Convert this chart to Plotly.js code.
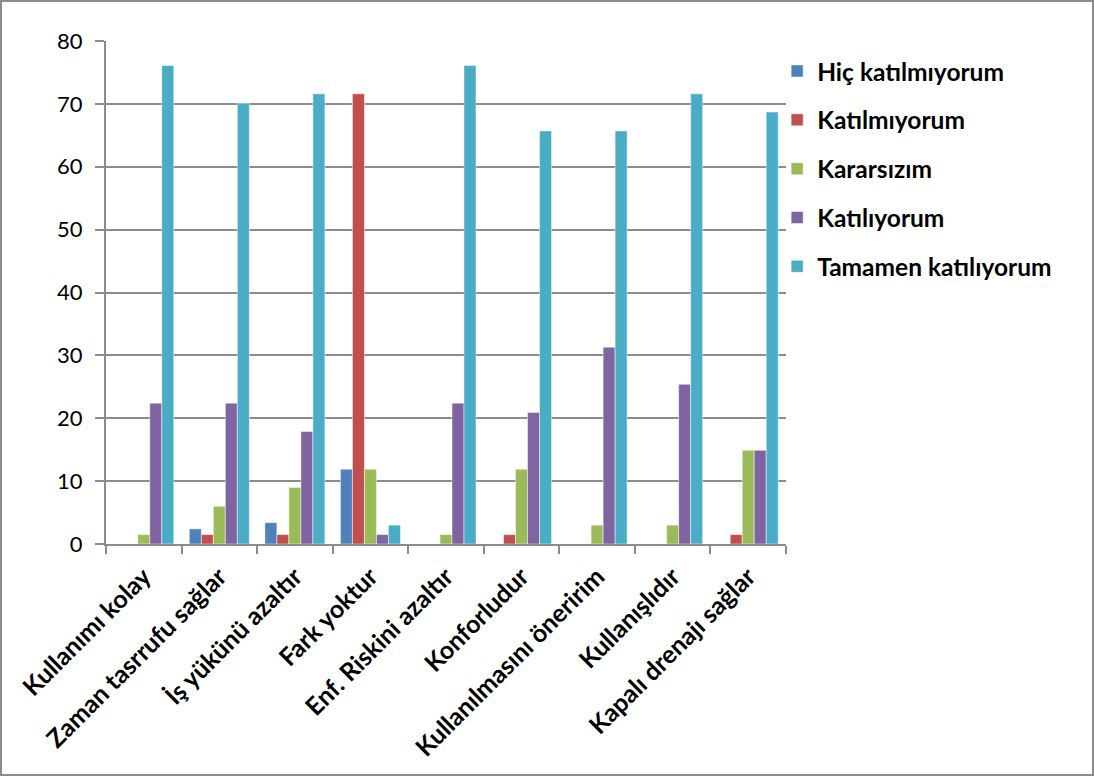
<!DOCTYPE html>
<html><head><meta charset="utf-8">
<script src="https://cdn.plot.ly/plotly-3.0.1.min.js"></script>
<style>
html,body{margin:0;padding:0;background:#fff;}
#wrap{width:1094px;height:776px;box-sizing:border-box;border:2px solid #8c8c8c;overflow:hidden;}
#chart{width:1090px;height:772px;}
</style></head>
<body><div id="wrap"><div id="chart"></div></div>
<script>
const categories = ["Kullanımı kolay","Zaman tasrrufu sağlar","İş yükünü azaltır","Fark yoktur","Enf. Riskini azaltır","Konforludur","Kullanılmasını öneririm","Kullanışlıdır","Kapalı drenajı sağlar"];
const seriesNames = ["Hiç katılmıyorum","Katılmıyorum","Kararsızım","Katılıyorum","Tamamen katılıyorum"];
const hicKatilmiyorum = [0, 2.4, 3.4, 11.9, 0, 0, 0, 0, 0];
const katilmiyorum = [0, 1.5, 1.5, 71.6, 0, 1.5, 0, 0, 1.5];
const kararsizim = [1.5, 6.0, 9.0, 11.9, 1.5, 11.9, 3.0, 3.0, 14.9];
const katiliyorum = [22.4, 22.4, 17.9, 1.5, 22.4, 20.9, 31.3, 25.4, 14.9];
const tamamenKatiliyorum = [76.1, 70.1, 71.6, 3.0, 76.1, 65.7, 65.7, 71.6, 68.7];
const colors = ["#4F81BD","#C0504D","#9BBB59","#8064A2","#4BACC6"];
const allValues = [hicKatilmiyorum, katilmiyorum, kararsizim, katiliyorum, tamamenKatiliyorum];

const traces = allValues.map((vals, i) => ({
  type: "bar",
  name: seriesNames[i],
  x: categories,
  y: vals,
  legendgroup: "g" + i,
  marker: {color: colors[i], line: {color: "rgba(255,255,255,0.6)", width: 0.8}}
}));

const font = "Lato, 'Open Sans', 'Liberation Sans', sans-serif";
const layout = {
  width: 1090, height: 772,
  margin: {l: 104, r: 306, t: 39, b: 230},
  paper_bgcolor: "#fff", plot_bgcolor: "#fff",
  barmode: "group", bargap: 0.206, bargroupgap: 0,
  font: {family: font, color: "#000"},
  showlegend: true,
  legend: {
    x: 0.987, xanchor: "left", y: 0.985, yanchor: "top",
    xref: "paper", yref: "paper",
    font: {family: font, size: 24.5, color: "#000", weight: "bold"},
    tracegroupgap: 14, itemwidth: 30,
    bgcolor: "rgba(0,0,0,0)"
  },
  xaxis: {
    type: "category",
    tickangle: -45,
    tickson: "boundaries",
    ticks: "outside", ticklen: 8, tickcolor: "#8c8c8c", tickwidth: 2,
    ticklabelstandoff: 6,
    showline: true, linecolor: "#8c8c8c", linewidth: 2,
    showgrid: false,
    tickfont: {family: font, size: 25, color: "#000", weight: "bold"}
  },
  yaxis: {
    range: [0, 80], dtick: 10, tick0: 0,
    ticks: "outside", ticklen: 9, tickcolor: "#8c8c8c", tickwidth: 2,
    ticklabelstandoff: 8,
    showline: true, linecolor: "#8c8c8c", linewidth: 2,
    showgrid: true, gridcolor: "#8c8c8c", gridwidth: 2,
    zeroline: false,
    tickfont: {family: font, size: 22, color: "#000"}
  }
};
Plotly.newPlot("chart", traces, layout, {displayModeBar: false, staticPlot: true});
</script></body></html>
